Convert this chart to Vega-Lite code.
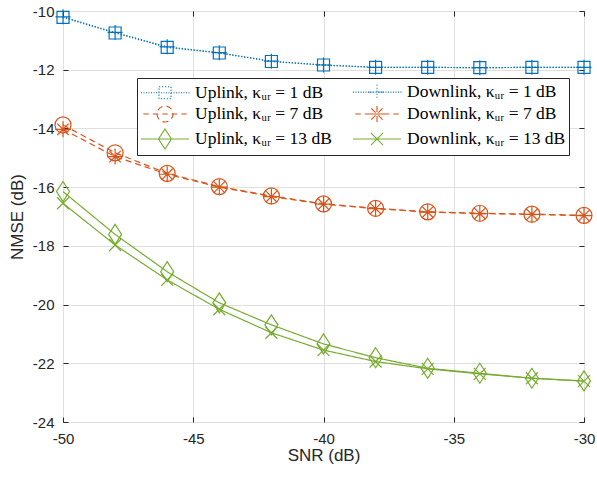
{
  "$schema": "https://vega.github.io/schema/vega-lite/v6.json",
  "width": 521,
  "height": 411,
  "autosize": "none",
  "padding": {"left": 63, "top": 11, "right": 13, "bottom": 44},
  "background": "white",
  "config": {
    "view": {"stroke": "#262626", "strokeWidth": 1},
    "axis": {
      "labelFont": "Liberation Sans",
      "labelFontSize": 15,
      "labelColor": "#262626",
      "titleFont": "Liberation Sans",
      "titleFontSize": 17,
      "titleFontWeight": "normal",
      "titleColor": "#262626",
      "tickColor": "#262626",
      "tickSize": -5,
      "tickWidth": 1,
      "domain": false,
      "gridColor": "#dfdfdf",
      "gridWidth": 1,
      "labelFlush": false,
      "labelOverlap": false
    }
  },
  "data": {
    "values": [
      {"snr": -50, "nmse": -10.22, "series": "Uplink, κᵤᵣ = 1 dB"},
      {"snr": -48, "nmse": -10.75, "series": "Uplink, κᵤᵣ = 1 dB"},
      {"snr": -46, "nmse": -11.24, "series": "Uplink, κᵤᵣ = 1 dB"},
      {"snr": -44, "nmse": -11.43, "series": "Uplink, κᵤᵣ = 1 dB"},
      {"snr": -42, "nmse": -11.72, "series": "Uplink, κᵤᵣ = 1 dB"},
      {"snr": -40, "nmse": -11.84, "series": "Uplink, κᵤᵣ = 1 dB"},
      {"snr": -38, "nmse": -11.92, "series": "Uplink, κᵤᵣ = 1 dB"},
      {"snr": -36, "nmse": -11.92, "series": "Uplink, κᵤᵣ = 1 dB"},
      {"snr": -34, "nmse": -11.93, "series": "Uplink, κᵤᵣ = 1 dB"},
      {"snr": -32, "nmse": -11.92, "series": "Uplink, κᵤᵣ = 1 dB"},
      {"snr": -30, "nmse": -11.92, "series": "Uplink, κᵤᵣ = 1 dB"},
      {"snr": -50, "nmse": -10.2, "series": "Downlink, κᵤᵣ = 1 dB"},
      {"snr": -48, "nmse": -10.73, "series": "Downlink, κᵤᵣ = 1 dB"},
      {"snr": -46, "nmse": -11.22, "series": "Downlink, κᵤᵣ = 1 dB"},
      {"snr": -44, "nmse": -11.42, "series": "Downlink, κᵤᵣ = 1 dB"},
      {"snr": -42, "nmse": -11.71, "series": "Downlink, κᵤᵣ = 1 dB"},
      {"snr": -40, "nmse": -11.84, "series": "Downlink, κᵤᵣ = 1 dB"},
      {"snr": -38, "nmse": -11.92, "series": "Downlink, κᵤᵣ = 1 dB"},
      {"snr": -36, "nmse": -11.92, "series": "Downlink, κᵤᵣ = 1 dB"},
      {"snr": -34, "nmse": -11.93, "series": "Downlink, κᵤᵣ = 1 dB"},
      {"snr": -32, "nmse": -11.92, "series": "Downlink, κᵤᵣ = 1 dB"},
      {"snr": -30, "nmse": -11.92, "series": "Downlink, κᵤᵣ = 1 dB"},
      {"snr": -50, "nmse": -13.88, "series": "Uplink, κᵤᵣ = 7 dB"},
      {"snr": -48, "nmse": -14.83, "series": "Uplink, κᵤᵣ = 7 dB"},
      {"snr": -46, "nmse": -15.53, "series": "Uplink, κᵤᵣ = 7 dB"},
      {"snr": -44, "nmse": -15.98, "series": "Uplink, κᵤᵣ = 7 dB"},
      {"snr": -42, "nmse": -16.3, "series": "Uplink, κᵤᵣ = 7 dB"},
      {"snr": -40, "nmse": -16.57, "series": "Uplink, κᵤᵣ = 7 dB"},
      {"snr": -38, "nmse": -16.72, "series": "Uplink, κᵤᵣ = 7 dB"},
      {"snr": -36, "nmse": -16.84, "series": "Uplink, κᵤᵣ = 7 dB"},
      {"snr": -34, "nmse": -16.89, "series": "Uplink, κᵤᵣ = 7 dB"},
      {"snr": -32, "nmse": -16.92, "series": "Uplink, κᵤᵣ = 7 dB"},
      {"snr": -30, "nmse": -16.96, "series": "Uplink, κᵤᵣ = 7 dB"},
      {"snr": -50, "nmse": -14.03, "series": "Downlink, κᵤᵣ = 7 dB"},
      {"snr": -48, "nmse": -14.96, "series": "Downlink, κᵤᵣ = 7 dB"},
      {"snr": -46, "nmse": -15.56, "series": "Downlink, κᵤᵣ = 7 dB"},
      {"snr": -44, "nmse": -16.0, "series": "Downlink, κᵤᵣ = 7 dB"},
      {"snr": -42, "nmse": -16.32, "series": "Downlink, κᵤᵣ = 7 dB"},
      {"snr": -40, "nmse": -16.58, "series": "Downlink, κᵤᵣ = 7 dB"},
      {"snr": -38, "nmse": -16.73, "series": "Downlink, κᵤᵣ = 7 dB"},
      {"snr": -36, "nmse": -16.85, "series": "Downlink, κᵤᵣ = 7 dB"},
      {"snr": -34, "nmse": -16.9, "series": "Downlink, κᵤᵣ = 7 dB"},
      {"snr": -32, "nmse": -16.93, "series": "Downlink, κᵤᵣ = 7 dB"},
      {"snr": -30, "nmse": -16.97, "series": "Downlink, κᵤᵣ = 7 dB"},
      {"snr": -50, "nmse": -16.15, "series": "Uplink, κᵤᵣ = 13 dB"},
      {"snr": -48, "nmse": -17.61, "series": "Uplink, κᵤᵣ = 13 dB"},
      {"snr": -46, "nmse": -18.88, "series": "Uplink, κᵤᵣ = 13 dB"},
      {"snr": -44, "nmse": -19.94, "series": "Uplink, κᵤᵣ = 13 dB"},
      {"snr": -42, "nmse": -20.69, "series": "Uplink, κᵤᵣ = 13 dB"},
      {"snr": -40, "nmse": -21.34, "series": "Uplink, κᵤᵣ = 13 dB"},
      {"snr": -38, "nmse": -21.81, "series": "Uplink, κᵤᵣ = 13 dB"},
      {"snr": -36, "nmse": -22.17, "series": "Uplink, κᵤᵣ = 13 dB"},
      {"snr": -34, "nmse": -22.34, "series": "Uplink, κᵤᵣ = 13 dB"},
      {"snr": -32, "nmse": -22.51, "series": "Uplink, κᵤᵣ = 13 dB"},
      {"snr": -30, "nmse": -22.6, "series": "Uplink, κᵤᵣ = 13 dB"},
      {"snr": -50, "nmse": -16.55, "series": "Downlink, κᵤᵣ = 13 dB"},
      {"snr": -48, "nmse": -17.97, "series": "Downlink, κᵤᵣ = 13 dB"},
      {"snr": -46, "nmse": -19.16, "series": "Downlink, κᵤᵣ = 13 dB"},
      {"snr": -44, "nmse": -20.16, "series": "Downlink, κᵤᵣ = 13 dB"},
      {"snr": -42, "nmse": -20.96, "series": "Downlink, κᵤᵣ = 13 dB"},
      {"snr": -40, "nmse": -21.55, "series": "Downlink, κᵤᵣ = 13 dB"},
      {"snr": -38, "nmse": -21.94, "series": "Downlink, κᵤᵣ = 13 dB"},
      {"snr": -36, "nmse": -22.19, "series": "Downlink, κᵤᵣ = 13 dB"},
      {"snr": -34, "nmse": -22.36, "series": "Downlink, κᵤᵣ = 13 dB"},
      {"snr": -32, "nmse": -22.51, "series": "Downlink, κᵤᵣ = 13 dB"},
      {"snr": -30, "nmse": -22.61, "series": "Downlink, κᵤᵣ = 13 dB"}
    ]
  },
  "layer": [
    {
      "mark": {"type": "line", "strokeWidth": 1.2},
      "encoding": {
        "x": {
          "field": "snr", "type": "quantitative",
          "scale": {"domain": [-50, -30], "nice": false, "zero": false},
          "axis": {"orient": "bottom", "values": [-50, -45, -40, -35, -30], "labelExpr": "datum.value + ''", "title": "SNR (dB)", "grid": true, "labelPadding": 14, "titlePadding": 1}
        },
        "y": {
          "field": "nmse", "type": "quantitative",
          "scale": {"domain": [-24, -10], "nice": false, "zero": false},
          "axis": {"orient": "left", "values": [-24, -22, -20, -18, -16, -14, -12, -10], "labelExpr": "datum.value + ''", "title": "NMSE (dB)", "grid": true, "labelPadding": 14, "titlePadding": 6}
        },
        "color": {
          "field": "series", "type": "nominal",
          "scale": {
            "domain": ["Uplink, κᵤᵣ = 1 dB", "Downlink, κᵤᵣ = 1 dB", "Uplink, κᵤᵣ = 7 dB", "Downlink, κᵤᵣ = 7 dB", "Uplink, κᵤᵣ = 13 dB", "Downlink, κᵤᵣ = 13 dB"],
            "range": ["#0072BD", "#0072BD", "#D95319", "#D95319", "#77AC30", "#77AC30"]
          }
        },
        "strokeDash": {
          "field": "series", "type": "nominal",
          "scale": {
            "domain": ["Uplink, κᵤᵣ = 1 dB", "Downlink, κᵤᵣ = 1 dB", "Uplink, κᵤᵣ = 7 dB", "Downlink, κᵤᵣ = 7 dB", "Uplink, κᵤᵣ = 13 dB", "Downlink, κᵤᵣ = 13 dB"],
            "range": [[1.2, 1.8], [1.2, 1.8], [6, 4], [6, 4], [1, 0], [1, 0]]
          },
          "legend": null
        }
      }
    },
    {
      "transform": [{"filter": "datum.series == 'Uplink, κᵤᵣ = 1 dB'"}],
      "mark": {"type": "point", "shape": "M-0.6,-0.6H0.6V0.6H-0.6Z", "filled": false, "size": 400, "strokeWidth": 1.2, "opacity": 1, "color": "#0072BD"},
      "encoding": {"x": {"field": "snr", "type": "quantitative", "axis": null}, "y": {"field": "nmse", "type": "quantitative", "axis": null}}
    },
    {
      "transform": [{"filter": "datum.series == 'Downlink, κᵤᵣ = 1 dB'"}],
      "mark": {"type": "point", "shape": "M-0.75,0H0.75M0,-0.75V0.75", "filled": false, "size": 400, "strokeWidth": 1.2, "opacity": 1, "color": "#0072BD"},
      "encoding": {"x": {"field": "snr", "type": "quantitative", "axis": null}, "y": {"field": "nmse", "type": "quantitative", "axis": null}}
    },
    {
      "transform": [{"filter": "datum.series == 'Uplink, κᵤᵣ = 7 dB'"}],
      "mark": {"type": "point", "shape": "M-0.8,0A0.8,0.8 0 1,0 0.8,0A0.8,0.8 0 1,0 -0.8,0", "filled": false, "size": 400, "strokeWidth": 1.2, "opacity": 1, "color": "#D95319"},
      "encoding": {"x": {"field": "snr", "type": "quantitative", "axis": null}, "y": {"field": "nmse", "type": "quantitative", "axis": null}}
    },
    {
      "transform": [{"filter": "datum.series == 'Downlink, κᵤᵣ = 7 dB'"}],
      "mark": {"type": "point", "shape": "M-0.8,0H0.8M0,-0.8V0.8M-0.57,-0.57L0.57,0.57M-0.57,0.57L0.57,-0.57", "filled": false, "size": 400, "strokeWidth": 1.2, "opacity": 1, "color": "#D95319"},
      "encoding": {"x": {"field": "snr", "type": "quantitative", "axis": null}, "y": {"field": "nmse", "type": "quantitative", "axis": null}}
    },
    {
      "transform": [{"filter": "datum.series == 'Uplink, κᵤᵣ = 13 dB'"}],
      "mark": {"type": "point", "shape": "M0,-1L0.65,0L0,1L-0.65,0Z", "filled": false, "size": 400, "strokeWidth": 1.2, "opacity": 1, "color": "#77AC30"},
      "encoding": {"x": {"field": "snr", "type": "quantitative", "axis": null}, "y": {"field": "nmse", "type": "quantitative", "axis": null}}
    },
    {
      "transform": [{"filter": "datum.series == 'Downlink, κᵤᵣ = 13 dB'"}],
      "mark": {"type": "point", "shape": "M-0.6,-0.6L0.6,0.6M-0.6,0.6L0.6,-0.6", "filled": false, "size": 400, "strokeWidth": 1.2, "opacity": 1, "color": "#77AC30"},
      "encoding": {"x": {"field": "snr", "type": "quantitative", "axis": null}, "y": {"field": "nmse", "type": "quantitative", "axis": null}}
    },
    {
      "transform": [{"filter": "datum.snr < -100"}],
      "mark": {"type": "point", "filled": false, "size": 400, "strokeWidth": 1, "opacity": 1},
      "encoding": {
        "x": {"field": "snr", "type": "quantitative", "axis": {"orient": "top", "values": [-50, -45, -40, -35, -30], "labels": false, "title": null, "grid": false}},
        "y": {"field": "nmse", "type": "quantitative", "axis": {"orient": "right", "values": [-24, -22, -20, -18, -16, -14, -12, -10], "labels": false, "title": null, "grid": false}},
        "color": {
          "field": "series", "type": "nominal",
          "legend": {
            "orient": "none", "legendX": 74, "legendY": 67, "columns": 2, "direction": "horizontal", "title": null,
            "labelFont": "Liberation Serif", "labelFontSize": 17.5, "labelColor": "black",
            "symbolSize": 400, "symbolStrokeWidth": 1.1, "labelOffset": 33, "columnPadding": 18, "rowPadding": 1, "padding": 3,
            "strokeColor": "#262626", "fillColor": "white", "labelLimit": 400, "symbolOpacity": 1
          }
        },
        "shape": {
          "field": "series", "type": "nominal",
          "scale": {
            "domain": ["Uplink, κᵤᵣ = 1 dB", "Downlink, κᵤᵣ = 1 dB", "Uplink, κᵤᵣ = 7 dB", "Downlink, κᵤᵣ = 7 dB", "Uplink, κᵤᵣ = 13 dB", "Downlink, κᵤᵣ = 13 dB"],
            "range": [
              "M-1,0h0.1m0.15,0h0.1m0.15,0h0.1m0.15,0h0.1m0.15,0h0.1m0.15,0h0.1m0.15,0h0.1m0.15,0h0.1m0.15,0h0.1m0.15,0h0.1m0.15,0h0.1m0.15,0h0.1m0.15,0h0.1m0.15,0h0.1m0.15,0h0.1m0.15,0h0.1m0.15,0h0.1m0.15,0h0.1m0.15,0h0.1m0.15,0h0.1M0.8,-0.6H2V0.6H0.8Z",
              "M-1,0h0.1m0.15,0h0.1m0.15,0h0.1m0.15,0h0.1m0.15,0h0.1m0.15,0h0.1m0.15,0h0.1m0.15,0h0.1m0.15,0h0.1m0.15,0h0.1m0.15,0h0.1m0.15,0h0.1m0.15,0h0.1m0.15,0h0.1m0.15,0h0.1m0.15,0h0.1m0.15,0h0.1m0.15,0h0.1m0.15,0h0.1m0.15,0h0.1M0.65,0H2.15M1.4,-0.75V0.75",
              "M-0.775,0h0.55M0.175,0h0.55M1.125,0h0.55M2.075,0h0.55M3.025,0h0.55M0.6,0A0.8,0.8 0 1,0 2.2,0A0.8,0.8 0 1,0 0.6,0",
              "M-0.775,0h0.55M0.175,0h0.55M1.125,0h0.55M2.075,0h0.55M3.025,0h0.55M0.6,0H2.2M1.4,-0.8V0.8M0.83,-0.57L1.97,0.57M0.83,0.57L1.97,-0.57",
              "M-1,0H3.8M1.4,-1L2.05,0L1.4,1L0.75,0Z",
              "M-1,0H3.8M0.8,-0.6L2,0.6M0.8,0.6L2,-0.6"
            ]
          },
          "legend": {
            "orient": "none", "legendX": 74, "legendY": 67, "columns": 2, "direction": "horizontal", "title": null,
            "labelFont": "Liberation Serif", "labelFontSize": 17.5, "labelColor": "black",
            "symbolSize": 400, "symbolStrokeWidth": 1.1, "labelOffset": 33, "columnPadding": 18, "rowPadding": 1, "padding": 3,
            "strokeColor": "#262626", "fillColor": "white", "labelLimit": 400, "symbolOpacity": 1
          }
        }
      }
    }
  ],
  "resolve": {
    "axis": {"x": "independent", "y": "independent"}
  }
}
